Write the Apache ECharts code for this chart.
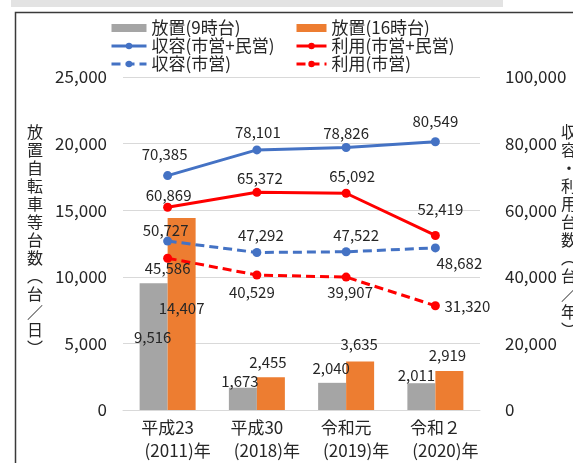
<!DOCTYPE html>
<html><head><meta charset="utf-8">
<script src="https://cdn.jsdelivr.net/npm/echarts@6/dist/echarts.min.js"></script>
<style>html,body{margin:0;padding:0;background:#fff}#c{width:573px;height:463px}</style>
</head><body><div id="c"></div>
<script>
// ---- data ----
const categories = ['平成23', '平成30', '令和元', '令和２'];
const yearLabels = ['(2011)年', '(2018)年', '(2019)年', '(2020)年'];
const seriesNames = ['放置(9時台)', '放置(16時台)', '収容(市営+民営)', '利用(市営+民営)', '収容(市営)', '利用(市営)'];
const abandoned9 = [9516, 1673, 2040, 2011];
const abandoned16 = [14407, 2455, 3635, 2919];
const capacityAll = [70385, 78101, 78826, 80549];
const usageAll = [60869, 65372, 65092, 52419];
const capacityCity = [50727, 47292, 47522, 48682];
const usageCity = [45586, 40529, 39907, 31320];
const leftTitle = '放置自転車等台数（台／日）';
const rightTitle = '収容・利用台数（台／年）';

// ---- styling ----
const FONT = "'Noto Sans CJK JP', 'Noto Sans', sans-serif";
const TXT = '#262626';
const fmt = v => Number(v).toLocaleString('en-US');
function vert(s) {
  return s.split('').map(c => c === '（' ? '︵' : c === '）' ? '︶' : c).join('\n');
}
function withLabels(values, offsets, pos) {
  return values.map((v, i) => ({
    value: v,
    label: { position: (pos && pos[i]) || 'inside', offset: offsets[i] }
  }));
}
const lineLabel = { show: true, fontSize: 15, lineHeight: 16, color: TXT, fontFamily: FONT, formatter: p => fmt(p.value) };
function lineSeries(name, values, color, dashed, offsets) {
  return {
    name, type: 'line', yAxisIndex: 1, data: withLabels(values, offsets),
    symbol: 'circle', symbolSize: 9, z: 5,
    lineStyle: { color, width: 3, type: dashed ? [9, 5] : 'solid' },
    itemStyle: { color },
    label: lineLabel
  };
}
const barLabel = { show: true, fontSize: 15, lineHeight: 16, color: TXT, fontFamily: FONT, distance: 0, formatter: p => fmt(p.value) };
const legendText = { fontSize: 17, color: TXT, lineHeight: 18, fontFamily: FONT };

const chart = echarts.init(document.getElementById('c'), null, { renderer: 'canvas' });
chart.setOption({
  animation: false,
  textStyle: { fontFamily: FONT },
  grid: { left: 123, right: 93, top: 77, bottom: 53 },
  legend: [
    {
      left: 110, top: 19, padding: 0, orient: 'vertical', itemWidth: 35, itemHeight: 8, itemGap: 0,
      textStyle: legendText, lineStyle: { width: 3 },
      data: [{ name: seriesNames[0], icon: 'rect' }, seriesNames[2], seriesNames[4]]
    },
    {
      left: 295, top: 19, padding: 0, orient: 'vertical', itemWidth: 30, itemHeight: 8, itemGap: 0,
      textStyle: legendText, lineStyle: { width: 3 },
      data: [{ name: seriesNames[1], icon: 'rect' }, seriesNames[3], seriesNames[5]]
    }
  ],
  xAxis: {
    type: 'category', data: categories,
    axisLine: { lineStyle: { color: '#d9d9d9', width: 1 } },
    axisTick: { show: false },
    axisLabel: {
      margin: 6, interval: 0,
      formatter: (v, i) => '{a|' + v + '}\n{b|' + yearLabels[i] + '}',
      rich: {
        a: { fontSize: 17, lineHeight: 23, color: TXT, fontFamily: FONT },
        b: { fontSize: 17, lineHeight: 23, color: TXT, fontFamily: FONT, padding: [0, 0, 0, 20] }
      }
    }
  },
  yAxis: [
    {
      type: 'value', min: 0, max: 25000, interval: 5000,
      axisLine: { show: false }, axisTick: { show: false },
      splitLine: { lineStyle: { color: '#d9d9d9', width: 1 } },
      axisLabel: { margin: 16, fontSize: 17, color: TXT, fontFamily: FONT, formatter: v => fmt(v) }
    },
    {
      type: 'value', min: 0, max: 100000, interval: 20000, position: 'right',
      axisLine: { show: false }, axisTick: { show: false }, splitLine: { show: false },
      axisLabel: { margin: 25, fontSize: 17, color: TXT, fontFamily: FONT, formatter: v => fmt(v) }
    }
  ],
  series: [
    {
      name: seriesNames[0], type: 'bar', barWidth: 28, barGap: 0,
      itemStyle: { color: '#a5a5a5' },
      data: withLabels(abandoned9, [[-1, -9], [-3, 2], [-1, -7], [-5, 0]], ['inside', 'top', 'top', 'top']),
      label: barLabel
    },
    {
      name: seriesNames[1], type: 'bar', barWidth: 28, barGap: 0,
      itemStyle: { color: '#ed7d31' },
      data: withLabels(abandoned16, [[0, -6], [-3, -7], [-1, -9], [-2, -8]], ['inside', 'top', 'top', 'top']),
      label: barLabel
    },
    lineSeries(seriesNames[2], capacityAll, '#4472c4', false, [[-3, -21], [1, -18], [0, -14], [0, -20]]),
    lineSeries(seriesNames[3], usageAll, '#ff0000', false, [[1, -12], [3, -14], [6, -17], [5, -26]]),
    lineSeries(seriesNames[4], capacityCity, '#4472c4', true, [[-2, -11], [4, -17], [10, -16], [24, 15]]),
    lineSeries(seriesNames[5], usageCity, '#ff0000', true, [[0, 10], [-5, 17], [4, 15], [32, 1]])
  ],
  graphic: [
    { type: 'rect', shape: { x: 11, y: 0, width: 492, height: 7 }, style: { fill: '#e3e3e3' }, silent: true },
    { type: 'polyline', shape: { points: [[573, 12.5], [15.5, 12.5], [15.5, 463]] }, style: { stroke: '#3a3a3a', lineWidth: 1.5, fill: null }, silent: true },
    { type: 'text', left: 27, top: 123, style: { text: vert(leftTitle), fontSize: 16, lineHeight: 18, fill: TXT, fontFamily: FONT, align: 'center' } },
    { type: 'text', left: 561, top: 123, style: { text: vert(rightTitle), fontSize: 16, lineHeight: 18, fill: TXT, fontFamily: FONT, align: 'center' } }
  ]
});
</script>
</body></html>
